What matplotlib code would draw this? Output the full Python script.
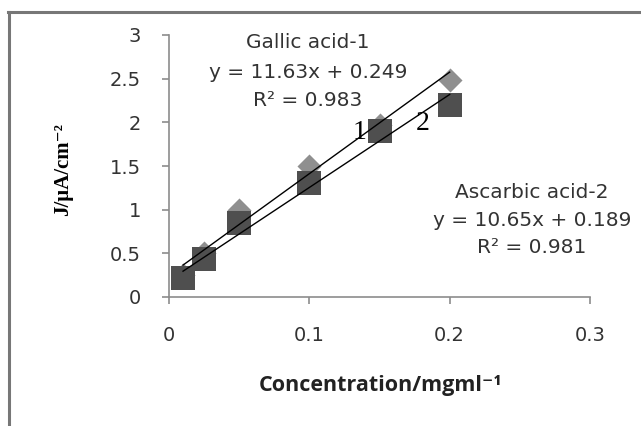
import matplotlib
matplotlib.use("Agg")
import matplotlib.pyplot as plt
import numpy as np

# Data
gallic_x = [0.01, 0.025, 0.05, 0.1, 0.15, 0.2]
gallic_y = [0.25, 0.5, 1.0, 1.5, 1.97, 2.48]
ascorbic_x = [0.01, 0.025, 0.05, 0.1, 0.15, 0.2]
ascorbic_y = [0.22, 0.43, 0.85, 1.3, 1.9, 2.2]
gallic_fit = (11.63, 0.249)
ascorbic_fit = (10.65, 0.189)
xticks = [0, 0.1, 0.2, 0.3]
yticks = [0, 0.5, 1, 1.5, 2, 2.5, 3]

fig = plt.figure(figsize=(6.41, 4.26), dpi=100)
# outer chart border (top and left)
fig.add_artist(plt.Line2D([0.013, 1.0], [1 - 11.5/426]*2, color="#777777", lw=2.2, transform=fig.transFigure))
fig.add_artist(plt.Line2D([0.0135]*2, [0, 1 - 11.5/426], color="#777777", lw=2.2, transform=fig.transFigure))

ax = fig.add_axes([169/641, 1 - 297/426, (590 - 169)/641, (297 - 35)/426])
ax.set_xlim(0, 0.3)
ax.set_ylim(0, 3)
ax.set_xticks(xticks)
ax.set_xticklabels(["0", "0.1", "0.2", "0.3"])
ax.set_yticks(yticks)
ax.set_yticklabels(["0", "0.5", "1", "1.5", "2", "2.5", "3"])
for s in ["top", "right"]:
    ax.spines[s].set_visible(False)
for s in ["left", "bottom"]:
    ax.spines[s].set_color("#8c8c8c")
    ax.spines[s].set_linewidth(1.2)
ax.tick_params(direction="out", length=5, width=1.2, color="#8c8c8c",
               labelsize=14, labelcolor="#333333")
ax.tick_params(axis="y", pad=15)
ax.tick_params(axis="x", pad=16)

ax.scatter(gallic_x, gallic_y, marker="D", s=150, color="#8f8f8f", zorder=3, linewidths=0)
ax.scatter(ascorbic_x, ascorbic_y, marker="s", s=290, color="#4f4f4f", zorder=4, linewidths=0)

xs = np.array([min(gallic_x), max(gallic_x)])
ax.plot(xs, gallic_fit[0]*xs + gallic_fit[1], color="black", lw=1.0, zorder=5)
xs2 = np.array([min(ascorbic_x), max(ascorbic_x)])
ax.plot(xs2, ascorbic_fit[0]*xs2 + ascorbic_fit[1], color="black", lw=1.0, zorder=5)

ax.text(0.136, 1.88, "1", family=["Liberation Serif", "DejaVu Serif"], fontsize=20,
        ha="center", va="center", zorder=6)
ax.text(0.181, 1.99, "2", family=["Liberation Serif", "DejaVu Serif"], fontsize=20,
        ha="center", va="center", zorder=6)

tkw = dict(fontsize=14.5, color="#333333", ha="center", va="center", transform=fig.transFigure)
fig.text(308/641, 1 - 43/426, "Gallic acid-1", **tkw)
fig.text(308/641, 1 - 73/426, "y = 11.63x + 0.249", **tkw)
fig.text(308/641, 1 - 100/426, "R² = 0.983", **tkw)
fig.text(532/641, 1 - 192/426, "Ascarbic acid-2", **tkw)
fig.text(532/641, 1 - 220/426, "y = 10.65x + 0.189", **tkw)
fig.text(532/641, 1 - 248/426, "R² = 0.981", **tkw)

fig.text(63/641, 1 - 170/426, "J/μA/cm⁻²", family=["Liberation Serif", "DejaVu Serif"],
         fontweight="bold", fontsize=15, rotation=90, ha="center", va="center")
fig.text(380/641, 1 - 385/426, "Concentration/mgml⁻¹", family=["Open Sans", "DejaVu Sans"],
         fontweight="bold", fontsize=15.5, color="#222222", ha="center", va="center")

fig.savefig("out.png", dpi=100)
